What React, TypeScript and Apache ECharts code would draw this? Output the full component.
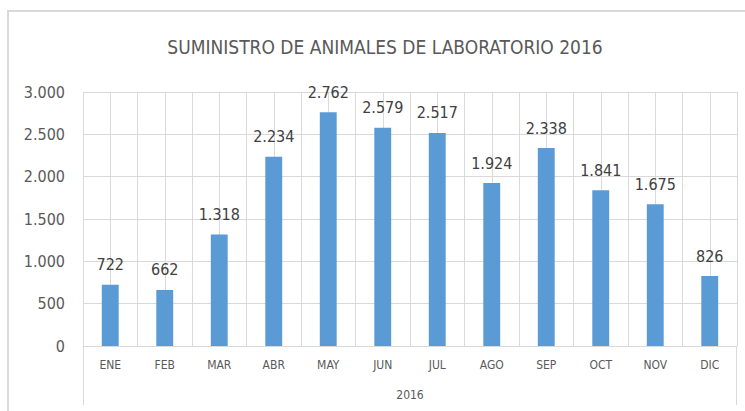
import React, { useEffect, useRef } from "react";
import * as echarts from "echarts";

const categories = ["ENE", "FEB", "MAR", "ABR", "MAY", "JUN", "JUL", "AGO", "SEP", "OCT", "NOV", "DIC"];
const values = [722, 662, 1318, 2234, 2762, 2579, 2517, 1924, 2338, 1841, 1675, 826];
const yearLabel = "2016";
const titleText = "SUMINISTRO DE ANIMALES DE LABORATORIO 2016";

const FONT = "'Liberation Sans Narrow', 'DejaVu Sans Condensed', sans-serif";

function fmt(v: number): string {
  return String(Math.round(v)).replace(/\B(?=(\d{3})+(?!\d))/g, ".");
}

export default function App() {
  const ref = useRef<HTMLDivElement>(null);
  useEffect(() => {
    if (!ref.current) return;
    const chart = echarts.init(ref.current, undefined, { renderer: "svg" });
    const gridLeft = 83;
    const gridRight = 8;
    const gridTop = 92;
    const gridBottom = 65;
    const W = 745;
    const H = 411;
    chart.setOption({
      animation: false,
      backgroundColor: "#ffffff",
      grid: { left: gridLeft, right: gridRight, top: gridTop, bottom: gridBottom, containLabel: false },
      graphic: [
        {
          type: "rect",
          shape: { x: 8, y: 11, width: 760, height: 420 },
          style: { fill: "none", stroke: "#d9d9d9", lineWidth: 2 },
          silent: true,
          z: -10,
        },
        {
          type: "text",
          x: 385,
          y: 47,
          style: {
            text: titleText,
            font: `19px ${FONT}`,
            fill: "#595959",
            textAlign: "center",
            textVerticalAlign: "middle",
          },
        },
        {
          type: "line",
          shape: { x1: gridLeft + 0.5, y1: H - gridBottom, x2: gridLeft + 0.5, y2: 405 },
          style: { stroke: "#d9d9d9", lineWidth: 1 },
        },
        {
          type: "line",
          shape: { x1: W - gridRight - 0.5, y1: H - gridBottom, x2: W - gridRight - 0.5, y2: 405 },
          style: { stroke: "#d9d9d9", lineWidth: 1 },
        },
      ],
      xAxis: [
        {
          type: "category",
          data: categories,
          boundaryGap: true,
          axisLine: { show: true, lineStyle: { color: "#d9d9d9", width: 1 } },
          axisTick: { show: false },
          splitLine: { show: false },
          axisLabel: { color: "#595959", fontSize: 12, fontFamily: FONT, margin: 13 },
          name: yearLabel,
          nameLocation: "middle",
          nameGap: 43,
          nameTextStyle: { color: "#595959", fontSize: 12, fontFamily: FONT },
        },
        {
          type: "value",
          min: 0,
          max: 12,
          interval: 0.5,
          position: "bottom",
          axisLine: { show: false },
          axisTick: { show: false },
          axisLabel: { show: false },
          splitLine: { show: true, lineStyle: { color: "#d9d9d9", width: 1 } },
        },
      ],
      yAxis: {
        type: "value",
        min: 0,
        max: 3000,
        interval: 500,
        axisLine: { show: false },
        axisTick: { show: false },
        axisLabel: {
          color: "#595959",
          fontSize: 16,
          fontFamily: FONT,
          margin: 18,
          formatter: (v: number) => fmt(v),
        },
        splitLine: { show: true, lineStyle: { color: "#d9d9d9", width: 1 } },
      },
      series: [
        {
          type: "bar",
          xAxisIndex: 0,
          data: values,
          barWidth: "31%",
          itemStyle: { color: "#5b9bd5" },
          label: {
            show: true,
            position: "top",
            distance: 12,
            color: "#404040",
            fontSize: 16,
            fontFamily: FONT,
            formatter: (p: any) => fmt(p.value),
          },
          z: 3,
        },
      ],
    });
    return () => chart.dispose();
  }, []);
  return (
    <div
      ref={ref}
      style={{ position: "fixed", left: 0, top: 0, width: 745, height: 411, background: "#fff" }}
    />
  );
}
